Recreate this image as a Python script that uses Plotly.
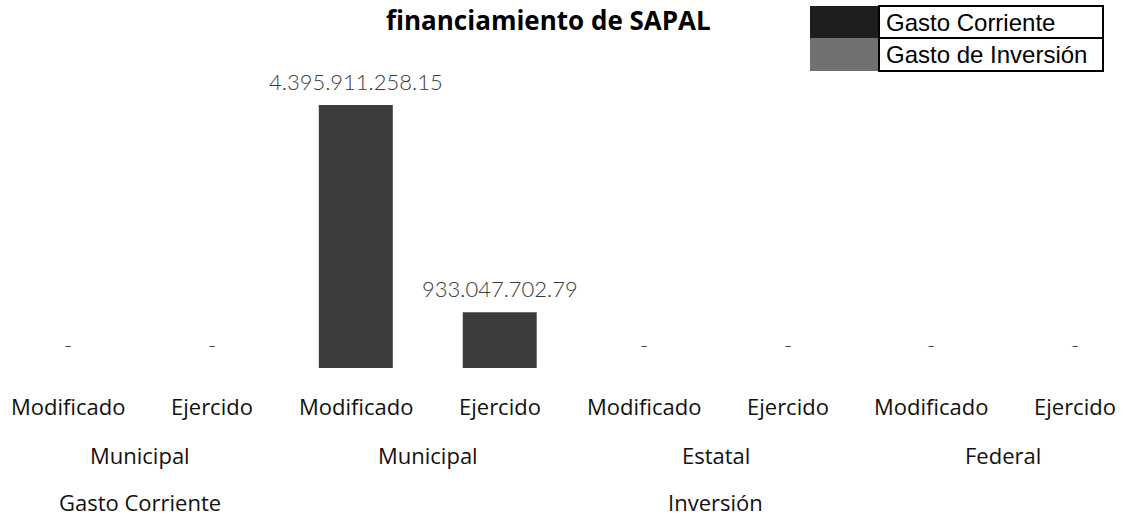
import plotly.graph_objects as go

# ---- data ----
categories = ["Modificado", "Ejercido", "Modificado", "Ejercido",
              "Modificado", "Ejercido", "Modificado", "Ejercido"]
level2 = ["Municipal", "Municipal", "Estatal", "Federal"]
level2_span = [(0, 1), (2, 3), (4, 5), (6, 7)]
level3 = ["Gasto Corriente", "Inversión"]
level3_span = [(0, 1), (2, 7)]
values = [0, 0, 4395911258.15, 933047702.79, 0, 0, 0, 0]
value_labels = ["-", "-", "4.395.911.258.15", "933.047.702.79", "-", "-", "-", "-"]
legend_names = ["Gasto Corriente", "Gasto de Inversión"]
legend_colors = ["#1e1e1e", "#707070"]
title_text = "financiamiento de SAPAL"

W, H = 1127, 518
MT, MB = 60, 150
x = list(range(len(categories)))

fig = go.Figure()
fig.add_trace(go.Bar(
    x=x, y=values, width=0.514,
    marker=dict(color="#3c3c3c", line=dict(width=0)),
    showlegend=False, hoverinfo="skip",
))

ann = []
for i, (v, t) in enumerate(zip(values, value_labels)):
    ann.append(dict(x=i, y=v, xref="x", yref="y", text=t, showarrow=False,
                    yshift=24, yanchor="middle",
                    font=dict(family="Lato", size=22, color="#3a3a3a", weight=300)))
for i, c in enumerate(categories):
    ann.append(dict(x=i, y=0, xref="x", yref="y", text=c, showarrow=False,
                    yshift=-38, yanchor="middle",
                    font=dict(family="Open Sans", size=22, color="#111111")))
for name, (a, b) in zip(level2, level2_span):
    ann.append(dict(x=(a + b) / 2, y=0, xref="x", yref="y", text=name, showarrow=False,
                    yshift=-87, yanchor="middle",
                    font=dict(family="Open Sans", size=22, color="#111111")))
for name, (a, b) in zip(level3, level3_span):
    ann.append(dict(x=(a + b) / 2, y=0, xref="x", yref="y", text=name, showarrow=False,
                    yshift=-134, yanchor="middle",
                    font=dict(family="Open Sans", size=22, color="#111111")))

pw, ph = W, H - MT - MB
def px2paper(px, py):
    return px / pw, (H - MB - py) / ph

tx, ty = px2paper(548, 20)
ann.append(dict(x=tx, y=ty, xref="paper", yref="paper", text="<b>" + title_text + "</b>",
                showarrow=False, xanchor="center", yanchor="middle",
                font=dict(family="Open Sans", size=26, color="#000000")))

# legend (table style)
shapes = []
lx0, lsw, lx1 = 810, 879, 1103
ly = [6, 38, 71]
for k, (nm, col) in enumerate(zip(legend_names, legend_colors)):
    y0, y1 = ly[k], ly[k + 1]
    a0x, a0y = px2paper(lx0, y1)
    a1x, a1y = px2paper(lsw, y0)
    shapes.append(dict(type="rect", xref="paper", yref="paper", x0=a0x, y0=a0y, x1=a1x, y1=a1y,
                       fillcolor=col, line=dict(width=0)))
    b0x, b0y = px2paper(lsw, y1)
    b1x, b1y = px2paper(lx1, y0)
    shapes.append(dict(type="rect", xref="paper", yref="paper", x0=b0x, y0=b0y, x1=b1x, y1=b1y,
                       fillcolor="rgba(0,0,0,0)", line=dict(width=2, color="#000000")))
    txp, typ = px2paper(lsw + 5, (y0 + y1) / 2)
    ann.append(dict(x=txp, y=typ, xref="paper", yref="paper", text=nm, showarrow=False,
                    xanchor="left", yanchor="middle",
                    font=dict(family="Liberation Sans", size=24, color="#000000")))

fig.update_layout(
    width=W, height=H,
    margin=dict(l=0, r=0, t=MT, b=MB),
    paper_bgcolor="white", plot_bgcolor="white",
    xaxis=dict(range=[-0.4726, 7.359], showticklabels=False, showgrid=False,
               zeroline=False, showline=False, ticks=""),
    yaxis=dict(range=[0, 4395911258.15 * (H - MT - MB) / 263], showticklabels=False,
               showgrid=False, zeroline=False, showline=False, ticks=""),
    annotations=ann,
    shapes=shapes,
)

fig.write_html("out.html", config={"displayModeBar": False},
               post_script="document.body.style.margin='0px';")
